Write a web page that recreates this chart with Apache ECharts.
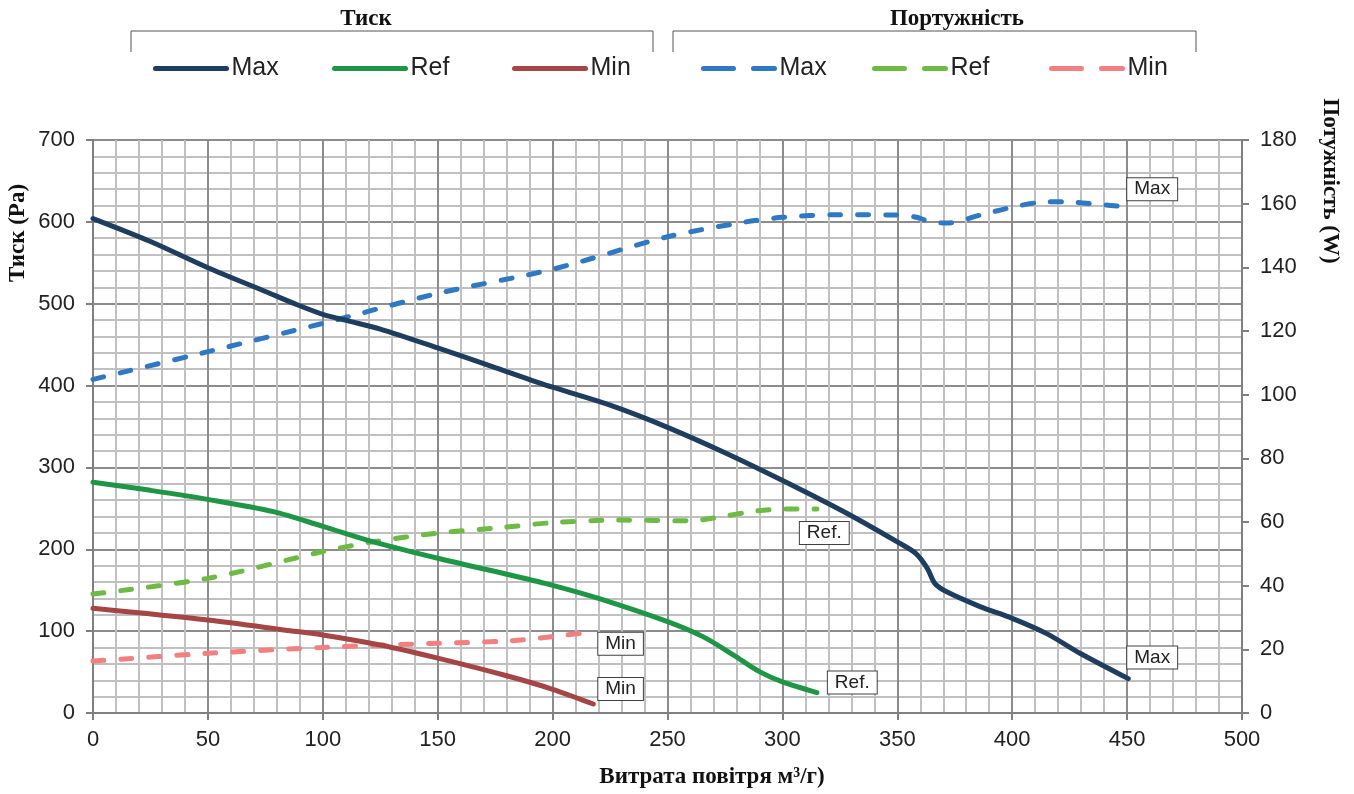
<!DOCTYPE html>
<html>
<head>
<meta charset="utf-8">
<script src="https://cdn.jsdelivr.net/npm/echarts@6/dist/echarts.min.js"></script>
<style>
  html, body { margin: 0; padding: 0; background: #fff; }
  #chart { width: 1354px; height: 794px; }
</style>
</head>
<body>
<div id="chart"></div>
<script>
// Тиск (Pa) - ліва вісь
var pMaxFlow = [0, 25, 50, 75, 88.6, 100, 111, 125, 150, 175, 200, 225, 250, 275, 299, 328, 350, 358, 363, 366.4, 371.5, 386, 400, 415, 429.5, 450.5];
var pMaxVal  = [604, 576, 544, 515, 499, 487, 479, 469, 446, 422, 398, 376, 349, 318, 285.5, 244, 209, 195, 177, 158, 148, 130, 115.6, 97, 73, 42];

var pRefFlow = [0, 25, 50, 78.5, 100, 122, 150, 180, 200, 220, 250, 265.6, 278.6, 290, 300, 315];
var pRefVal  = [282, 272, 261, 246, 228, 209, 189, 169.5, 156, 140, 111.6, 93, 71, 50.5, 38, 25];

var pMinFlow = [0, 50, 85.7, 100, 125, 150, 180, 200, 217.7];
var pMinVal  = [128, 113.6, 100.6, 95.3, 83, 67, 45.5, 29, 11];

// Потужність (W) - права вісь
var wMaxFlow = [0, 50, 100, 150, 200, 250, 283.5, 300, 323.5, 350, 358, 364, 371.5, 386, 400, 412, 422, 437, 450.5];
var wMaxVal  = [104.8, 113.5, 122.4, 131.8, 139.4, 149.6, 154.2, 155.7, 156.5, 156.4, 155.8, 154.4, 153.9, 156.4, 158.9, 160.4, 160.6, 159.8, 158.9];

var wRefFlow = [0, 50, 100, 122, 150, 177, 200, 228, 260, 274, 286, 300, 315];
var wRefVal  = [37.4, 42.3, 50.7, 53.8, 56.5, 58.2, 59.8, 60.6, 60.4, 61.7, 63.2, 64.1, 64.1];

var wMinFlow = [0, 50, 100, 150, 180, 200, 217.7];
var wMinVal  = [16.3, 18.75, 20.6, 21.9, 22.6, 24, 25.5];

var legendNames = { pMax: 'Max', pRef: 'Ref', pMin: 'Min', wMax: 'Max', wRef: 'Ref', wMin: 'Min' };

function pairs(xs, ys) {
  return xs.map(function (x, i) { return [x, ys[i]]; });
}

var SANS = '"Liberation Sans", Arial, sans-serif';
var SERIF = '"Liberation Serif", "Times New Roman", serif';
var DASH = [11, 17];

function boxLabel(text, offset) {
  return {
    show: true,
    formatter: text,
    distance: 0,
    offset: offset,
    fontFamily: SANS,
    fontSize: 19,
    color: '#222',
    backgroundColor: '#fff',
    borderColor: '#404040',
    borderWidth: 1,
    padding: [2, 7, 1, 7]
  };
}

function makeSeries(id, xs, ys, color, dashed, yIdx, label) {
  return {
    name: id,
    type: 'line',
    yAxisIndex: yIdx,
    data: pairs(xs, ys),
    symbol: 'none',
    smooth: 0.3,
    z: dashed ? 4 : 5,
    lineStyle: {
      color: color,
      width: 5,
      type: dashed ? DASH : 'solid',
      cap: 'round'
    },
    itemStyle: { color: color },
    endLabel: label
  };
}

var chart = echarts.init(document.getElementById('chart'));

function oneLegend(name, left, dashed) {
  return {
    data: [name],
    left: left,
    top: 56,
    padding: 0,
    itemWidth: 71,
    itemHeight: 24,
    itemGap: 0,
    selectedMode: false,
    formatter: function (n) { return legendNames[n]; },
    itemStyle: { opacity: 0 },
    lineStyle: { width: 5, cap: 'round', type: dashed ? [30, 20] : 'solid' },
    textStyle: { fontFamily: SANS, fontSize: 25, color: '#222', padding: [3, 0, 0, 0] }
  };
}

chart.setOption({
  animation: false,
  backgroundColor: '#fff',
  grid: { left: 93, right: 112, top: 140, bottom: 81 },
  legend: [
    oneLegend('pMax', 153, false),
    oneLegend('pRef', 332, false),
    oneLegend('pMin', 512, false),
    oneLegend('wMax', 701, true),
    oneLegend('wRef', 872, true),
    oneLegend('wMin', 1049, true)
  ],
  xAxis: {
    type: 'value',
    min: 0, max: 500, interval: 50,
    axisLine: { show: true, lineStyle: { color: '#808080', width: 2 } },
    axisTick: { show: true, length: 7, lineStyle: { color: '#808080', width: 2 } },
    axisLabel: { margin: 16, fontFamily: SANS, fontSize: 22, color: '#222' },
    splitLine: { show: true, lineStyle: { color: '#8c8c8c', width: 2 } },
    minorTick: { show: false, splitNumber: 5 },
    minorSplitLine: { show: true, lineStyle: { color: '#c0c0c0', width: 2 } }
  },
  yAxis: [
    {
      type: 'value',
      min: 0, max: 700, interval: 100,
      axisLine: { show: true, lineStyle: { color: '#808080', width: 2 } },
      axisTick: { show: true, length: 7, lineStyle: { color: '#808080', width: 2 } },
      axisLabel: { margin: 18, fontFamily: SANS, fontSize: 22, color: '#222' },
      splitLine: { show: true, lineStyle: { color: '#8c8c8c', width: 2 } },
      minorTick: { show: false, splitNumber: 5 },
      minorSplitLine: { show: true, lineStyle: { color: '#c0c0c0', width: 2 } }
    },
    {
      type: 'value',
      position: 'right',
      min: 0, max: 180, interval: 20,
      axisLine: { show: true, lineStyle: { color: '#808080', width: 2 } },
      axisTick: { show: true, length: 7, lineStyle: { color: '#808080', width: 2 } },
      axisLabel: { margin: 18, fontFamily: SANS, fontSize: 22, color: '#222' },
      splitLine: { show: false }
    }
  ],
  graphic: [
    // заголовки груп легенди
    { type: 'text', x: 366, y: 19,
      style: { text: 'Тиск', font: 'bold 23px ' + SERIF, fill: '#111', align: 'center', verticalAlign: 'middle' } },
    { type: 'polyline', shape: { points: [[131, 52], [131, 31], [653, 31], [653, 52]] },
      style: { stroke: '#555', lineWidth: 1, fill: null } },
    { type: 'text', x: 957, y: 19,
      style: { text: 'Портужність', font: 'bold 23px ' + SERIF, fill: '#111', align: 'center', verticalAlign: 'middle' } },
    { type: 'polyline', shape: { points: [[673, 52], [673, 31], [1196, 31], [1196, 52]] },
      style: { stroke: '#555', lineWidth: 1, fill: null } },
    // назви осей
    { type: 'text', x: 18, y: 233, rotation: Math.PI / 2,
      style: { text: 'Тиск (Pa)', font: 'bold 23px ' + SERIF, fill: '#111', align: 'center', verticalAlign: 'middle' } },
    { type: 'text', x: 1330, y: 181, rotation: -Math.PI / 2,
      style: { text: 'Потужність (W)', font: 'bold 23px ' + SERIF, fill: '#111', align: 'center', verticalAlign: 'middle' } },
    { type: 'text', x: 712, y: 777,
      style: { text: 'Витрата повітря м³/г)', font: 'bold 23px ' + SERIF, fill: '#111', align: 'center', verticalAlign: 'middle' } }
  ],
  series: [
    makeSeries('wMax', wMaxFlow, wMaxVal, '#2f78c4', true, 1, boxLabel('Max', [-1, -18])),
    makeSeries('wRef', wRefFlow, wRefVal, '#6dbb44', true, 1, boxLabel('Ref.', [-17, 24])),
    makeSeries('wMin', wMinFlow, wMinVal, '#f28080', true, 1, boxLabel('Min', [5, 12])),
    makeSeries('pMax', pMaxFlow, pMaxVal, '#1e3d5f', false, 0, boxLabel('Max', [-1, -21])),
    makeSeries('pRef', pRefFlow, pRefVal, '#1e9646', false, 0, boxLabel('Ref.', [11, -10])),
    makeSeries('pMin', pMinFlow, pMinVal, '#a54545', false, 0, boxLabel('Min', [5, -15]))
  ]
});
</script>
</body>
</html>
